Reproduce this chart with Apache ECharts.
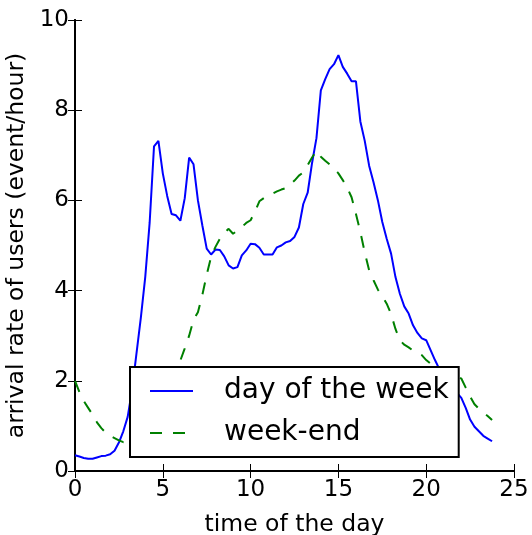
<!DOCTYPE html>
<html>
<head>
<meta charset="utf-8">
<script src="https://cdn.jsdelivr.net/npm/echarts@6/dist/echarts.min.js"></script>
<style>
html,body{margin:0;padding:0;background:#fff;}
#chart{width:532px;height:535px;}
</style>
</head>
<body>
<div id="chart"></div>
<script>
const hours = [
  0.00,0.25,0.50,0.75,1.00,1.25,1.50,1.75,2.00,2.25,2.50,2.75,
  3.00,3.25,3.50,3.75,4.00,4.25,4.50,4.75,5.00,5.25,5.50,5.75,
  6.00,6.25,6.50,6.75,7.00,7.25,7.50,7.75,8.00,8.25,8.50,8.75,
  9.00,9.25,9.50,9.75,10.00,10.25,10.50,10.75,11.00,11.25,11.50,11.75,
  12.00,12.25,12.50,12.75,13.00,13.25,13.50,13.75,14.00,14.25,14.50,14.75,
  15.00,15.25,15.50,15.75,16.00,16.25,16.50,16.75,17.00,17.25,17.50,17.75,
  18.00,18.25,18.50,18.75,19.00,19.25,19.50,19.75,20.00,20.25,20.50,20.75,
  21.00,21.25,21.50,21.75,22.00,22.25,22.50,22.75,23.00,23.25,23.50,23.75
];
const dayOfWeek = [
  0.35,0.32,0.29,0.27,0.27,0.30,0.33,0.34,0.37,0.45,0.63,0.88,
  1.20,1.80,2.60,3.40,4.30,5.50,7.20,7.32,6.60,6.10,5.70,5.67,
  5.55,6.05,6.95,6.80,6.00,5.45,4.93,4.80,4.91,4.90,4.76,4.56,
  4.49,4.52,4.78,4.89,5.04,5.03,4.95,4.80,4.80,4.80,4.96,5.00,
  5.07,5.10,5.19,5.40,5.92,6.17,6.83,7.38,8.44,8.69,8.91,9.02,
  9.22,8.96,8.81,8.64,8.64,7.75,7.32,6.77,6.40,6.00,5.52,5.15,
  4.82,4.30,3.93,3.65,3.49,3.23,3.06,2.94,2.90,2.68,2.46,2.26,
  2.10,1.95,1.83,1.73,1.62,1.40,1.14,0.98,0.88,0.78,0.72,0.66
];
const weekEnd = [
  2.00,1.75,1.55,1.40,1.25,1.08,0.95,0.85,0.78,0.73,0.68,0.64,
  0.65,0.70,0.80,0.95,1.10,1.30,1.50,1.70,1.85,2.00,2.15,2.30,
  2.45,2.72,3.00,3.35,3.52,3.90,4.35,4.75,4.97,5.15,5.28,5.37,
  5.26,5.33,5.41,5.50,5.56,5.75,5.98,6.05,6.10,6.15,6.20,6.24,
  6.27,6.35,6.44,6.55,6.62,6.78,6.95,7.10,6.97,6.88,6.80,6.70,
  6.60,6.45,6.28,6.07,5.70,5.30,4.85,4.45,4.23,4.02,3.88,3.71,
  3.48,3.15,2.90,2.80,2.74,2.67,2.62,2.57,2.46,2.38,2.30,2.25,
  2.20,2.17,2.14,2.11,2.05,1.85,1.65,1.48,1.38,1.30,1.22,1.13
];
const seriesNames = ['day of the week', 'week-end'];
const xLabel = 'time of the day';
const yLabel = 'arrival rate of users (event/hour)';

const FONT = 'DejaVu Sans';
const chart = echarts.init(document.getElementById('chart'), null, {renderer: 'canvas'});

const tick = {show: true, inside: true, length: 7, lineStyle: {color: '#000', width: 1}};
const line = {show: true, lineStyle: {color: '#000', width: 2}};

chart.setOption({
  animation: false,
  backgroundColor: '#fff',
  grid: {left: 75, right: 18, top: 20, bottom: 64, containLabel: false, outerBoundsMode: 'none'},
  legend: {
    orient: 'vertical',
    left: 130,
    top: 367,
    data: seriesNames,
    backgroundColor: '#fff',
    borderColor: '#000',
    borderWidth: 2,
    borderRadius: 0,
    padding: [8, 10, 8, 19],
    itemWidth: 43,
    itemHeight: 14,
    itemGap: 10,
    itemStyle: {opacity: 0},
    textStyle: {fontFamily: FONT, fontSize: 28, color: '#000', lineHeight: 32, padding: [0, 0, 0, 26]},
    z: 10
  },
  xAxis: [
    {
      type: 'value', min: 0, max: 25, interval: 5, position: 'bottom',
      name: xLabel, nameLocation: 'middle', nameGap: 42,
      nameTextStyle: {fontFamily: FONT, fontSize: 23.5, color: '#000'},
      axisLine: line, axisTick: tick,
      axisLabel: {fontFamily: FONT, fontSize: 23, color: '#000', margin: 8},
      splitLine: {show: false}
    },
    {
      type: 'value', min: 0, max: 25, interval: 5, position: 'top',
      axisLine: line, axisTick: tick, axisLabel: {show: false}, splitLine: {show: false}
    }
  ],
  yAxis: [
    {
      type: 'value', min: 0, max: 10, interval: 2, position: 'left',
      name: yLabel, nameLocation: 'middle', nameGap: 37,
      nameTextStyle: {fontFamily: FONT, fontSize: 23.5, color: '#000'},
      axisLine: line, axisTick: tick,
      axisLabel: {fontFamily: FONT, fontSize: 23, color: '#000', margin: 6},
      splitLine: {show: false}
    },
    {
      type: 'value', min: 0, max: 10, interval: 2, position: 'right',
      axisLine: line, axisTick: tick, axisLabel: {show: false}, splitLine: {show: false}
    }
  ],
  series: [
    {
      name: seriesNames[0], type: 'line', symbol: 'none', smooth: false,
      data: hours.map((h, i) => [h, dayOfWeek[i]]),
      lineStyle: {color: '#0000ff', width: 2},
      itemStyle: {color: '#0000ff'}
    },
    {
      name: seriesNames[1], type: 'line', symbol: 'none', smooth: false,
      data: hours.map((h, i) => [h, weekEnd[i]]),
      lineStyle: {color: '#008000', width: 2, type: [12, 11]},
      itemStyle: {color: '#008000'}
    }
  ]
});
</script>
</body>
</html>
